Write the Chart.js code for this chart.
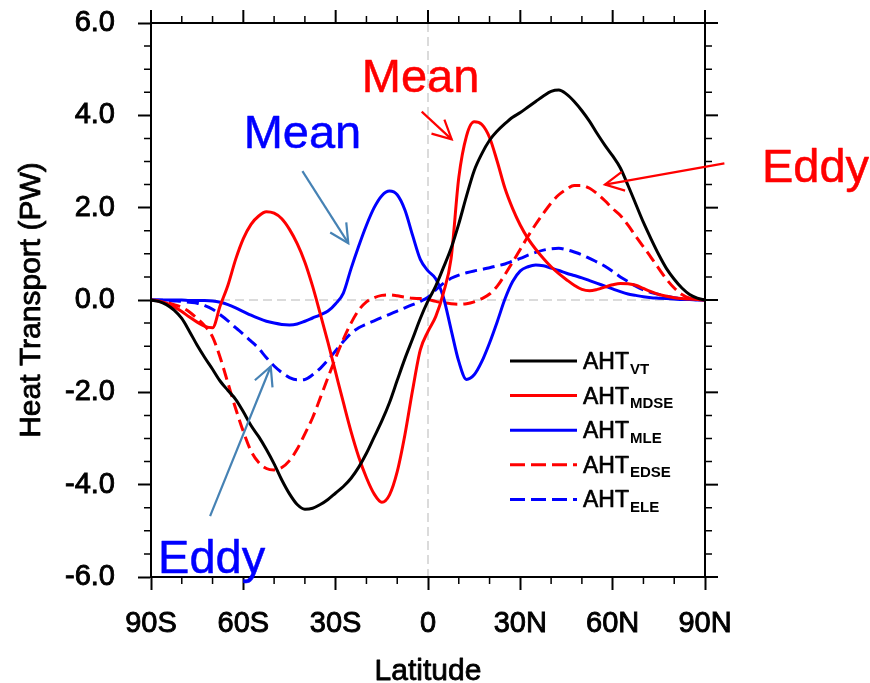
<!DOCTYPE html>
<html>
<head>
<meta charset="utf-8">
<script src="https://cdn.jsdelivr.net/npm/chart.js@4/dist/chart.umd.min.js"></script>
<style>
  html, body { margin: 0; padding: 0; background: #ffffff; }
  canvas { display: block; }
</style>
</head>
<body>
<canvas id="aht" width="870" height="683"></canvas>
<script>
// Zonal-mean atmospheric heat transport (PW) by latitude, and its parts.
const LATITUDES = [
  -90, -87.5, -85, -82.5, -80, -77.5, -75, -72.5, -70, -67.5, -65, -62.5,
  -60, -57.5, -55, -52.5, -50, -47.5, -45, -42.5, -40, -37.5, -35, -32.5,
  -30, -27.5, -25, -22.5, -20, -17.5, -15, -12.5, -10, -7.5, -5, -2.5,
  0, 2.5, 5, 7.5, 10, 12.5, 15, 17.5, 20, 22.5, 25, 27.5,
  30, 32.5, 35, 37.5, 40, 42.5, 45, 47.5, 50, 52.5, 55, 57.5,
  60, 62.5, 65, 67.5, 70, 72.5, 75, 77.5, 80, 82.5, 85, 87.5, 90
];

// Total (vertically integrated) transport
const AHT_VT = [
  0, -0.03, -0.10, -0.22, -0.40, -0.68, -0.98, -1.25, -1.50, -1.76, -1.96, -2.15,
  -2.42, -2.72, -2.96, -3.24, -3.55, -3.90, -4.20, -4.43, -4.53, -4.51, -4.43, -4.32,
  -4.18, -4.04, -3.86, -3.62, -3.32, -2.97, -2.62, -2.22, -1.74, -1.27, -0.84, -0.40,
  -0.02, 0.30, 0.70, 1.12, 1.65, 2.25, 2.80, 3.17, 3.46, 3.66, 3.82, 3.96,
  4.06, 4.18, 4.30, 4.42, 4.52, 4.55, 4.46, 4.30, 4.10, 3.87, 3.60, 3.35,
  3.12, 2.86, 2.48, 2.08, 1.68, 1.32, 0.98, 0.68, 0.45, 0.26, 0.12, 0.04, 0
];

// Mean dry static energy
const AHT_MDSE = [
  0, -0.02, -0.07, -0.15, -0.25, -0.37, -0.48, -0.57, -0.60, -0.12, 0.32, 0.88,
  1.33, 1.64, 1.82, 1.91, 1.88, 1.76, 1.53, 1.22, 0.82, 0.30, -0.30, -0.92,
  -1.57, -2.22, -2.85, -3.40, -3.85, -4.20, -4.38, -4.22, -3.72, -2.92, -1.95, -1.08,
  -0.68, -0.36, 0.15, 0.90, 2.65, 3.55, 3.86, 3.80, 3.52, 3.00, 2.42, 1.98,
  1.62, 1.33, 1.10, 0.90, 0.72, 0.57, 0.44, 0.32, 0.23, 0.20, 0.23, 0.28,
  0.33, 0.36, 0.35, 0.32, 0.25, 0.18, 0.12, 0.08, 0.05, 0.03, 0.02, 0.01, 0
];

// Mean latent energy
const AHT_MLE = [
  0, 0, 0, 0, 0, -0.01, -0.01, -0.01, -0.02, -0.05, -0.10, -0.17,
  -0.25, -0.33, -0.40, -0.46, -0.50, -0.53, -0.54, -0.52, -0.46, -0.39, -0.32, -0.24,
  -0.08, 0.15, 0.68, 1.17, 1.62, 2.00, 2.26, 2.36, 2.28, 1.95, 1.40, 0.88,
  0.63, 0.46, 0.06, -0.64, -1.33, -1.72, -1.62, -1.33, -0.93, -0.47, 0.02, 0.40,
  0.63, 0.72, 0.76, 0.74, 0.69, 0.64, 0.58, 0.53, 0.48, 0.42, 0.36, 0.30,
  0.24, 0.18, 0.13, 0.10, 0.07, 0.05, 0.04, 0.03, 0.02, 0.01, 0.01, 0, 0
];

// Eddy dry static energy
const AHT_EDSE = [
  0, -0.02, -0.05, -0.10, -0.16, -0.26, -0.40, -0.56, -0.80, -1.25, -1.80, -2.35,
  -2.85, -3.27, -3.52, -3.65, -3.68, -3.63, -3.48, -3.23, -2.90, -2.55, -2.12, -1.68,
  -1.25, -0.85, -0.50, -0.22, -0.04, 0.05, 0.10, 0.11, 0.09, 0.06, 0.04, 0.03,
  0.01, -0.03, -0.06, -0.08, -0.09, -0.08, -0.04, 0.03, 0.13, 0.30, 0.55, 0.82,
  1.10, 1.38, 1.64, 1.88, 2.10, 2.28, 2.40, 2.48, 2.48, 2.42, 2.30, 2.15,
  1.98, 1.83, 1.62, 1.38, 1.15, 0.92, 0.68, 0.45, 0.26, 0.12, 0.04, 0.01, 0
];

// Eddy latent energy
const AHT_ELE = [
  0, 0, -0.01, -0.02, -0.03, -0.05, -0.07, -0.12, -0.20, -0.32, -0.45, -0.60,
  -0.74, -0.89, -1.05, -1.25, -1.43, -1.57, -1.68, -1.73, -1.72, -1.62, -1.48, -1.30,
  -1.10, -0.90, -0.72, -0.60, -0.52, -0.45, -0.38, -0.31, -0.24, -0.17, -0.10, -0.03,
  0.06, 0.22, 0.36, 0.47, 0.54, 0.59, 0.63, 0.66, 0.70, 0.74, 0.78, 0.84,
  0.90, 0.97, 1.03, 1.08, 1.11, 1.12, 1.09, 1.04, 0.98, 0.90, 0.82, 0.73,
  0.62, 0.50, 0.40, 0.30, 0.22, 0.16, 0.12, 0.08, 0.05, 0.03, 0.02, 0.01, 0
];

const X_TICK_LABELS = ['90S', '60S', '30S', '0', '30N', '60N', '90N'];
const Y_TICK_LABELS = ['-6.0', '-4.0', '-2.0', '0.0', '2.0', '4.0', '6.0'];
const SUBSCRIPTS = ['VT', 'MDSE', 'MLE', 'EDSE', 'ELE'];
const X_TITLE = 'Latitude';
const Y_TITLE = 'Heat Transport (PW)';

const FONT = '"Liberation Sans", Arial, Helvetica, sans-serif';

// Callout words and arrows, placed in (latitude, PW) units
const NOTES = [
  { text: 'Mean', color: '#0000ff', lat: -40.8, val: 3.29 },
  { text: 'Mean', color: '#ff0000', lat: -2.4, val: 4.50 },
  { text: 'Eddy', color: '#ff0000', lat: 125.9, val: 2.56 },
  { text: 'Eddy', color: '#0000ff', lat: -70.3, val: -5.91 }
];
const ARROWS = [
  { from: [-40.8, 2.79], to: [-25.9, 1.23], color: '#4682b4' },
  { from: [-2.05, 4.08], to: [7.7, 3.48], color: '#ff0000' },
  { from: [96.3, 2.96], to: [57.5, 2.50], color: '#ff0000' },
  { from: [-70.8, -4.68], to: [-51.1, -1.44], color: '#4682b4' }
];

const toPoints = vals => LATITUDES.map((lat, i) => ({ x: lat, y: vals[i] }));

function series(label, vals, color, dashed) {
  return {
    label,
    data: toPoints(vals),
    borderColor: color,
    backgroundColor: color,
    borderWidth: 3,
    borderDash: dashed ? [12, 6] : [],
    pointRadius: 0,
    fill: false,
    cubicInterpolationMode: 'monotone'
  };
}

// Text with a hairline outline, for a slightly heavier face
function heavyText(ctx, text, x, y, stroke) {
  ctx.lineWidth = stroke;
  ctx.strokeStyle = ctx.fillStyle;
  ctx.lineJoin = 'round';
  ctx.strokeText(text, x, y);
  ctx.fillText(text, x, y);
}

// Light dashed lines through the equator and zero transport
const zeroLines = {
  id: 'zeroLines',
  beforeDatasetsDraw(chart) {
    const { ctx, chartArea: a, scales: { x, y } } = chart;
    ctx.save();
    ctx.strokeStyle = '#cfcfcf';
    ctx.lineWidth = 1.5;
    ctx.setLineDash([9, 5]);
    const y0 = y.getPixelForValue(0);
    const x0 = x.getPixelForValue(0);
    ctx.beginPath();
    ctx.moveTo(a.left, y0); ctx.lineTo(a.right, y0);
    ctx.moveTo(x0, a.top); ctx.lineTo(x0, a.bottom);
    ctx.stroke();
    ctx.restore();
  }
};

// Closed frame with outward ticks on all four sides, plus axis titles
const frame = {
  id: 'frame',
  afterDraw(chart) {
    const { ctx, chartArea: a, scales: { x, y } } = chart;
    ctx.save();
    ctx.strokeStyle = '#000';
    ctx.lineWidth = 2;
    ctx.strokeRect(a.left, a.top, a.right - a.left, a.bottom - a.top);
    const MAJ = 13, MIN = 7;
    for (let lat = -90; lat <= 90; lat += 10) {
      const px = x.getPixelForValue(lat);
      const major = lat % 30 === 0;
      const len = major ? MAJ : MIN;
      ctx.lineWidth = major ? 2 : 1.5;
      ctx.beginPath();
      ctx.moveTo(px, a.top); ctx.lineTo(px, a.top - len);
      if (!major) { ctx.moveTo(px, a.bottom); ctx.lineTo(px, a.bottom + len); }
      ctx.stroke();
    }
    for (let v = -6; v <= 6.001; v += 0.5) {
      const py = y.getPixelForValue(v);
      const major = Math.abs(v % 2) < 1e-6;
      const len = major ? MAJ : MIN;
      ctx.lineWidth = major ? 2 : 1.5;
      ctx.beginPath();
      ctx.moveTo(a.right, py); ctx.lineTo(a.right + len, py);
      if (!major) { ctx.moveTo(a.left, py); ctx.lineTo(a.left - len, py); }
      ctx.stroke();
    }

    ctx.fillStyle = '#000';
    ctx.font = '30px ' + FONT;
    ctx.textAlign = 'center';
    ctx.textBaseline = 'alphabetic';
    heavyText(ctx, X_TITLE, (a.left + a.right) / 2, a.bottom + 103, 0.8);
    ctx.translate(a.left - 111, (a.top + a.bottom) / 2);
    ctx.rotate(-Math.PI / 2);
    heavyText(ctx, Y_TITLE, 0, 0, 0.8);
    ctx.restore();
  }
};

function arrow(ctx, x0, y0, x1, y1, color) {
  const head = 21, spread = 0.47;
  const ang = Math.atan2(y1 - y0, x1 - x0);
  ctx.save();
  ctx.strokeStyle = color;
  ctx.lineWidth = 2.2;
  ctx.lineJoin = 'miter';
  ctx.beginPath();
  ctx.moveTo(x0, y0); ctx.lineTo(x1, y1);
  ctx.stroke();
  ctx.beginPath();
  ctx.moveTo(x1 - head * Math.cos(ang - spread), y1 - head * Math.sin(ang - spread));
  ctx.lineTo(x1, y1);
  ctx.lineTo(x1 - head * Math.cos(ang + spread), y1 - head * Math.sin(ang + spread));
  ctx.stroke();
  ctx.restore();
}

const callouts = {
  id: 'callouts',
  afterDraw(chart) {
    const { ctx, scales: { x, y } } = chart;
    ctx.save();
    ctx.font = '47px ' + FONT;
    ctx.textAlign = 'center';
    ctx.textBaseline = 'alphabetic';
    NOTES.forEach(n => {
      ctx.fillStyle = n.color;
      heavyText(ctx, n.text, x.getPixelForValue(n.lat), y.getPixelForValue(n.val), 0.5);
    });
    ctx.restore();
    ARROWS.forEach(a => {
      arrow(ctx,
        x.getPixelForValue(a.from[0]), y.getPixelForValue(a.from[1]),
        x.getPixelForValue(a.to[0]), y.getPixelForValue(a.to[1]), a.color);
    });
  }
};

// Legend with subscripted names, inside the lower-right part of the plot
const subLegend = {
  id: 'subLegend',
  afterDraw(chart) {
    const { ctx, chartArea: a } = chart;
    const x0 = a.left + 359, x1 = a.left + 426;
    const yStart = a.top + 338, step = 34.6;
    ctx.save();
    chart.data.datasets.forEach((ds, i) => {
      const yy = yStart + i * step;
      ctx.strokeStyle = ds.borderColor;
      ctx.lineWidth = 3;
      ctx.setLineDash(ds.borderDash.length ? [15, 6] : []);
      ctx.beginPath();
      ctx.moveTo(x0, yy); ctx.lineTo(x1, yy);
      ctx.stroke();
      ctx.setLineDash([]);
      ctx.fillStyle = '#000';
      ctx.textAlign = 'left';
      ctx.textBaseline = 'alphabetic';
      ctx.font = '23px ' + FONT;
      const tx = x1 + 6;
      heavyText(ctx, 'AHT', tx, yy + 8, 0.7);
      const w = ctx.measureText('AHT').width;
      ctx.font = 'bold 15px ' + FONT;
      ctx.fillText(SUBSCRIPTS[i], tx + w + 1, yy + 12.5);
    });
    ctx.restore();
  }
};

new Chart(document.getElementById('aht'), {
  type: 'line',
  data: {
    datasets: [
      series('AHT_VT', AHT_VT, '#000000', false),
      series('AHT_MDSE', AHT_MDSE, '#ff0000', false),
      series('AHT_MLE', AHT_MLE, '#0000ff', false),
      series('AHT_EDSE', AHT_EDSE, '#ff0000', true),
      series('AHT_ELE', AHT_ELE, '#0000ff', true)
    ]
  },
  options: {
    responsive: false,
    animation: false,
    devicePixelRatio: 1,
    layout: { padding: { top: 23, right: 165, left: 0, bottom: 0 } },
    plugins: { legend: { display: false }, tooltip: { enabled: false } },
    scales: {
      x: {
        type: 'linear',
        min: -90, max: 90,
        afterFit(s) { s.height = 106; s.paddingLeft = 0; s.paddingRight = 0; },
        afterBuildTicks(s) { s.ticks = X_TICK_LABELS.map((_, i) => ({ value: -90 + 30 * i })); },
        ticks: {
          color: '#000',
          font: { family: FONT, size: 29, lineHeight: 1.2 },
          padding: 17,
          maxRotation: 0,
          autoSkip: false,
          textStrokeColor: '#000',
          textStrokeWidth: 0.9,
          callback: (v, i) => X_TICK_LABELS[i]
        },
        grid: { drawOnChartArea: false, drawTicks: true, tickLength: 13, tickWidth: 2, tickColor: '#000' },
        border: { display: true, color: '#000', width: 2 }
      },
      y: {
        type: 'linear',
        min: -6, max: 6,
        afterFit(s) { s.width = 151; s.paddingTop = 0; s.paddingBottom = 0; },
        afterBuildTicks(s) { s.ticks = Y_TICK_LABELS.map((_, i) => ({ value: -6 + 2 * i })); },
        ticks: {
          color: '#000',
          font: { family: FONT, size: 29 },
          padding: 23,
          autoSkip: false,
          textStrokeColor: '#000',
          textStrokeWidth: 0.9,
          callback: (v, i) => Y_TICK_LABELS[i]
        },
        grid: { drawOnChartArea: false, drawTicks: true, tickLength: 13, tickWidth: 2, tickColor: '#000' },
        border: { display: true, color: '#000', width: 2 }
      }
    }
  },
  plugins: [zeroLines, frame, callouts, subLegend]
});
</script>
</body>
</html>
